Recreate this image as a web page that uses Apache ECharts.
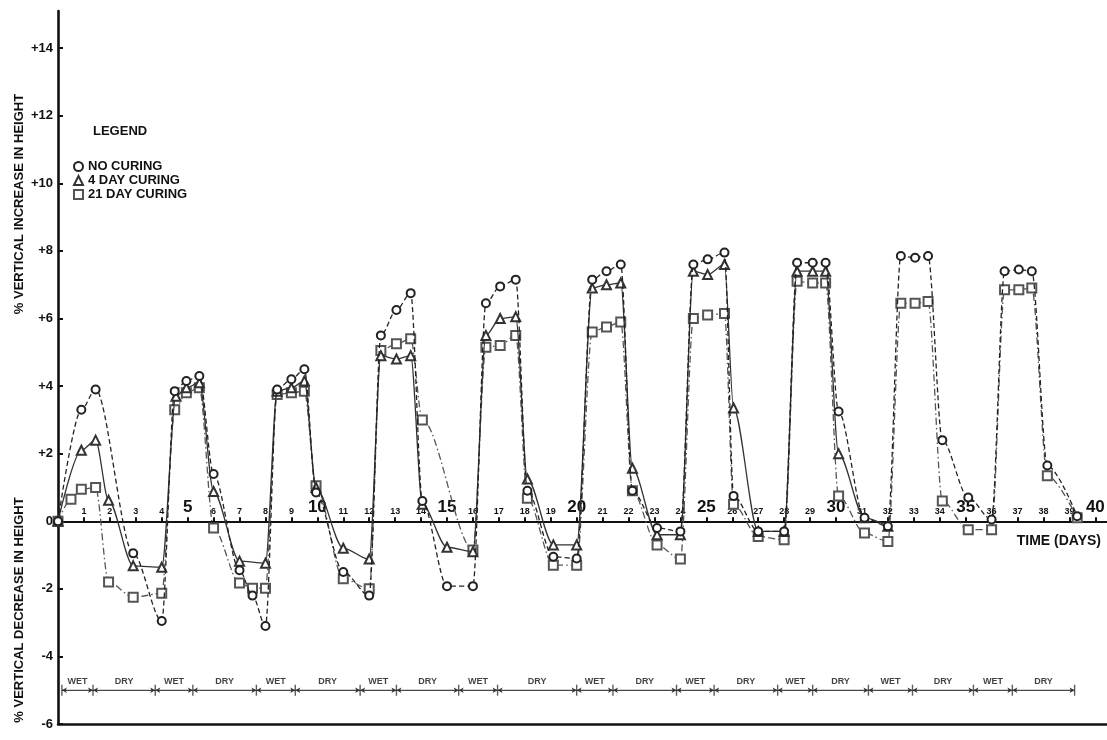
<!DOCTYPE html>
<html>
<head>
<meta charset="utf-8">
<script src="https://cdn.jsdelivr.net/npm/echarts@6/dist/echarts.min.js"></script>
<style>
  html, body { margin: 0; padding: 0; background: #fff; }
  #chart { width: 1107px; height: 740px; }
</style>
</head>
<body>
<div id="chart"></div>
<script>
// ---------- data ----------
const noCuringDays = [0, 0.9, 1.45, 2.9, 4, 4.5, 4.95, 5.45, 6.0, 7.0, 7.5, 8.0, 8.45, 9.0, 9.5, 9.95, 11, 12,
  12.45, 13.05, 13.6, 14.05, 15, 16, 16.5, 17.05, 17.65, 18.1, 19.1, 20, 20.6, 21.15, 21.7, 22.15, 23.1, 24,
  24.5, 25.05, 25.7, 26.05, 27, 28, 28.5, 29.1, 29.6, 30.1, 31.1, 32, 32.5, 33.05, 33.55, 34.1, 35.1, 36,
  36.5, 37.05, 37.55, 38.15, 39.3];
const noCuringValues = [0, 3.3, 3.9, -0.95, -2.95, 3.85, 4.15, 4.3, 1.4, -1.45, -2.2, -3.1, 3.9, 4.2, 4.5, 0.85, -1.5, -2.2,
  5.5, 6.25, 6.75, 0.6, -1.92, -1.92, 6.45, 6.95, 7.15, 0.9, -1.05, -1.1, 7.15, 7.4, 7.6, 0.9, -0.2, -0.3,
  7.6, 7.75, 7.95, 0.75, -0.3, -0.3, 7.65, 7.65, 7.65, 3.25, 0.1, -0.15, 7.85, 7.8, 7.85, 2.4, 0.7, 0.05,
  7.4, 7.45, 7.4, 1.65, 0.15];

const fourDayDays = [0, 0.9, 1.45, 1.95, 2.9, 4, 4.55, 4.95, 5.45, 6.0, 7.0, 8.0, 8.45, 9.0, 9.5, 9.95, 11, 12,
  12.45, 13.05, 13.6, 14.05, 15, 16, 16.5, 17.05, 17.65, 18.1, 19.1, 20, 20.6, 21.15, 21.7, 22.15, 23.1, 24,
  24.5, 25.05, 25.7, 26.05, 27, 28, 28.5, 29.1, 29.6, 30.1, 31.1, 32];
const fourDayValues = [0, 2.1, 2.4, 0.62, -1.32, -1.36, 3.7, 3.95, 4.1, 0.88, -1.18, -1.24, 3.85, 3.95, 4.15, 1.0, -0.8, -1.12,
  4.9, 4.8, 4.9, 0.5, -0.77, -0.9, 5.5, 6.0, 6.05, 1.25, -0.7, -0.7, 6.9, 7.0, 7.05, 1.57, -0.4, -0.4,
  7.4, 7.3, 7.6, 3.35, -0.3, -0.3, 7.4, 7.4, 7.4, 2.0, 0.1, -0.15];

const twentyOneDayDays = [0, 0.5, 0.9, 1.45, 1.95, 2.9, 4, 4.5, 4.95, 5.45, 6.0, 7.0, 7.5, 8.0, 8.45, 9.0, 9.5, 9.95, 11, 12,
  12.45, 13.05, 13.6, 14.05, 16, 16.5, 17.05, 17.65, 18.1, 19.1, 20, 20.6, 21.15, 21.7, 22.15, 23.1, 24,
  24.5, 25.05, 25.7, 26.05, 27, 28, 28.5, 29.1, 29.6, 30.1, 31.1, 32, 32.5, 33.05, 33.55, 34.1, 35.1, 36,
  36.5, 37.05, 37.55, 38.15, 39.3];
const twentyOneDayValues = [0, 0.65, 0.95, 1.0, -1.8, -2.25, -2.13, 3.3, 3.8, 3.95, -0.2, -1.83, -1.98, -1.98, 3.75, 3.8, 3.85, 1.05, -1.7, -2.0,
  5.05, 5.25, 5.4, 3.0, -0.85, 5.15, 5.2, 5.5, 0.68, -1.3, -1.3, 5.6, 5.75, 5.9, 0.9, -0.7, -1.12,
  6.0, 6.1, 6.15, 0.5, -0.45, -0.55, 7.1, 7.05, 7.05, 0.75, -0.35, -0.6, 6.45, 6.45, 6.5, 0.6, -0.25, -0.25,
  6.85, 6.85, 6.9, 1.35, 0.1];

const seriesNames = ['NO CURING', '4 DAY CURING', '21 DAY CURING'];

// x tick labels (days) and y tick values
const dayTicks = [];
for (let d = 1; d <= 40; d++) dayTicks.push(d);
const yTicks = [-6, -4, -2, 0, 2, 4, 6, 8, 10, 12, 14];

// wet / dry schedule bar (boundaries in days)
const phaseBounds = [0.15, 1.35, 3.75, 5.2, 7.65, 9.15, 11.65, 13.05, 15.45, 16.95, 20.0,
  21.4, 23.85, 25.3, 27.75, 29.1, 31.25, 32.95, 35.3, 36.8, 39.2];
const phaseNames = ['WET', 'DRY', 'WET', 'DRY', 'WET', 'DRY', 'WET', 'DRY', 'WET', 'DRY',
  'WET', 'DRY', 'WET', 'DRY', 'WET', 'DRY', 'WET', 'DRY', 'WET', 'DRY'];
const phaseBarLevel = -5;

// ---------- build ----------
const zip = (xs, ys) => xs.map((x, i) => [x, ys[i]]);
const FONT = '"Liberation Sans", Arial, Helvetica, sans-serif';
const INK = '#111111';

const phaseMarks = [];
for (let i = 0; i < phaseNames.length; i++) {
  phaseMarks.push([{ coord: [phaseBounds[i], phaseBarLevel] }, { coord: [phaseBounds[i + 1], phaseBarLevel] }]);
}
const phaseLabelData = phaseNames.map((n, i) => ({
  value: [(phaseBounds[i] + phaseBounds[i + 1]) / 2, phaseBarLevel], name: n
}));
const dayLabelData = dayTicks.map((d) => ({ value: [d, 0], name: String(d) }));

const chart = echarts.init(document.getElementById('chart'), null, { renderer: 'canvas' });

const hollow = (c) => ({ color: c, borderColor: c, borderWidth: 1.1 });

chart.setOption({
  animation: false,
  backgroundColor: '#fff',
  textStyle: { fontFamily: FONT },
  grid: { left: 58, right: 0, top: 11, bottom: 16, containLabel: false },
  legend: {
    orient: 'vertical', left: 73, top: 160, padding: 0,
    itemWidth: 9, itemHeight: 9, itemGap: 1,
    selectedMode: false,
    textStyle: { fontFamily: FONT, fontSize: 13, fontWeight: 'bold', color: INK, lineHeight: 12 },
    data: [
      { name: seriesNames[0], icon: 'emptyCircle' },
      { name: seriesNames[1], icon: 'emptyTriangle' },
      { name: seriesNames[2], icon: 'emptyRect' }
    ]
  },
  xAxis: [
    {
      type: 'value', min: 0, max: 40.45, position: 'top',
      axisLine: { onZero: true, lineStyle: { color: INK, width: 2.2 } },
      axisTick: { customValues: dayTicks, length: 4, lineStyle: { color: INK, width: 2 } },
      axisLabel: { show: false },
      splitLine: { show: false }
    },
    {
      type: 'value', min: 0, max: 40.45, position: 'bottom',
      axisLine: { onZero: false, lineStyle: { color: INK, width: 2.5 } },
      axisTick: { show: false }, axisLabel: { show: false }, splitLine: { show: false }
    }
  ],
  yAxis: {
    type: 'value', min: -6, max: 15.1,
    axisLine: { show: true, onZero: false, lineStyle: { color: INK, width: 2.6 } },
    axisTick: { show: true, inside: true, length: 5, customValues: yTicks, lineStyle: { color: INK, width: 2 } },
    axisLabel: {
      customValues: yTicks, margin: 5, color: INK, fontFamily: FONT, fontSize: 13, fontWeight: 'bold',
      formatter: (v) => (v > 0 ? '+' + v : String(v))
    },
    splitLine: { show: false }
  },
  graphic: [
    { type: 'text', left: 93, top: 125, style: { text: 'LEGEND', font: 'bold 13px ' + FONT, fill: INK } },
    { type: 'text', x: 19, y: 204, rotation: Math.PI / 2,
      style: { text: '% VERTICAL INCREASE IN HEIGHT', font: 'bold 13px ' + FONT, fill: INK,
        align: 'center', verticalAlign: 'middle', textAlign: 'center', textVerticalAlign: 'middle' } },
    { type: 'text', x: 19, y: 610, rotation: Math.PI / 2,
      style: { text: '% VERTICAL DECREASE IN HEIGHT', font: 'bold 13px ' + FONT, fill: INK,
        align: 'center', verticalAlign: 'middle', textAlign: 'center', textVerticalAlign: 'middle' } },
    { type: 'text', x: 1101, y: 541,
      style: { text: 'TIME (DAYS)', font: 'bold 14px ' + FONT, fill: INK,
        align: 'right', verticalAlign: 'middle', textAlign: 'right', textVerticalAlign: 'middle' } }
  ],
  series: [
    {
      name: 'dayLabels', type: 'scatter', silent: true, z: 1,
      data: dayLabelData, symbolSize: 1, itemStyle: { color: 'rgba(0,0,0,0)' },
      label: {
        show: true, position: 'top', distance: 5, color: INK, textBorderWidth: 0,
        formatter: (p) => (p.value[0] % 5 === 0 ? '{big|' + p.name + '}' : '{small|' + p.name + '}'),
        rich: {
          big: { fontFamily: FONT, fontSize: 17, fontWeight: 'bold', color: INK, textBorderWidth: 0, opacity: 1 },
          small: { fontFamily: FONT, fontSize: 9, fontWeight: 'bold', color: INK, textBorderWidth: 0, opacity: 1 }
        }
      },
      emphasis: { disabled: true }
    },
    {
      name: seriesNames[2], type: 'line', data: zip(twentyOneDayDays, twentyOneDayValues),
      smooth: 0.3, smoothMonotone: 'x',
      symbol: 'emptyRect', symbolSize: 9, showAllSymbol: true,
      lineStyle: { color: '#555', width: 1.3, type: [7, 3, 1.5, 3] },
      itemStyle: hollow('#555'), z: 2
    },
    {
      name: seriesNames[1], type: 'line', data: zip(fourDayDays, fourDayValues),
      smooth: 0.3, smoothMonotone: 'x',
      symbol: 'emptyTriangle', symbolSize: 9, showAllSymbol: true,
      lineStyle: { color: '#333', width: 1.3, type: 'solid' },
      itemStyle: hollow('#333'), z: 3
    },
    {
      name: seriesNames[0], type: 'line', data: zip(noCuringDays, noCuringValues),
      smooth: 0.3, smoothMonotone: 'x',
      symbol: 'emptyCircle', symbolSize: 8, showAllSymbol: true,
      lineStyle: { color: '#222', width: 1.3, type: [5, 3] },
      itemStyle: hollow('#222'), z: 4
    },
    {
      name: 'phaseBar', type: 'line', silent: true,
      data: [[phaseBounds[0], phaseBarLevel], [phaseBounds[phaseBounds.length - 1], phaseBarLevel]],
      symbol: 'none', lineStyle: { color: '#444', width: 0.8 },
      markLine: {
        silent: true, symbol: ['arrow', 'arrow'], symbolSize: [4, 5],
        label: { show: false }, lineStyle: { color: '#333', width: 0.8, type: 'solid' },
        data: phaseMarks
      }
    },
    {
      name: 'phaseBounds', type: 'scatter', silent: true,
      data: phaseBounds.map((b) => [b, phaseBarLevel]),
      symbol: 'rect', symbolSize: [1.4, 11], itemStyle: { color: '#333' }
    },
    {
      name: 'phaseLabels', type: 'scatter', silent: true,
      data: phaseLabelData, symbolSize: 1, itemStyle: { color: 'rgba(0,0,0,0)' },
      label: {
        show: true, position: 'top', distance: 4, formatter: (p) => p.name,
        fontFamily: FONT, fontSize: 9, fontWeight: 'bold', color: INK
      }
    }
  ]
});
</script>
</body>
</html>
